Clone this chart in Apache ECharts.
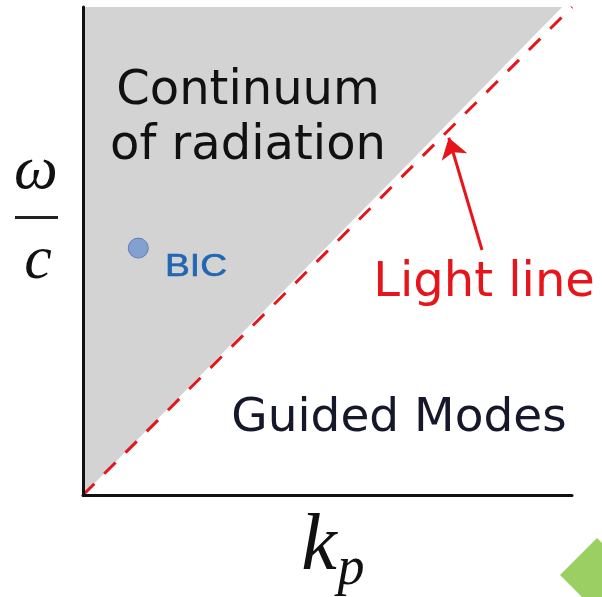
<!DOCTYPE html>
<html>
<head>
<meta charset="utf-8">
<style>html,body{margin:0;padding:0;background:#fff;}#c{width:602px;height:597px;}</style>
<script src="https://cdn.jsdelivr.net/npm/echarts@6/dist/echarts.min.js"></script>
</head>
<body>
<div id="c"></div>
<script>
// Data (normalized k_p and omega/c units)
const lightLine = [[0, 0], [1, 1]];
const continuumRegion = [[0, 0], [0, 1], [0.98, 1]];
const bicPoint = [[0.113, 0.506]];
const arrowCoords = [[0.816, 0.502], [0.748, 0.732]];

const chart = echarts.init(document.getElementById('c'), null, {renderer: 'canvas'});
const sans = '"DejaVu Sans", Verdana, sans-serif';
const serif = '"Liberation Serif", "DejaVu Serif", serif';

chart.setOption({
  animation: false,
  backgroundColor: '#ffffff',
  grid: {left: 83, top: 7, width: 489, height: 488, containLabel: false},
  xAxis: {
    type: 'value', min: 0, max: 1, z: 5,
    axisLine: {show: true, onZero: false, lineStyle: {color: '#111', width: 3}},
    axisTick: {show: false}, axisLabel: {show: false}, splitLine: {show: false}
  },
  yAxis: {
    type: 'value', min: 0, max: 1, z: 5,
    axisLine: {show: true, onZero: false, lineStyle: {color: '#111', width: 3}},
    axisTick: {show: false}, axisLabel: {show: false}, splitLine: {show: false}
  },
  series: [
    {
      type: 'custom', z: 1,
      renderItem: function (params, api) {
        const pts = continuumRegion.map(p => api.coord(p));
        return {type: 'polygon', shape: {points: pts}, style: {fill: '#d3d3d3'}};
      },
      data: [0]
    },
    {
      type: 'line', data: lightLine, symbol: 'none', z: 3,
      lineStyle: {color: '#e3161e', width: 3, type: [16, 14]}
    },
    {
      type: 'scatter', data: bicPoint, symbolSize: 20, z: 4,
      itemStyle: {color: '#6f95d0', borderColor: '#4d73b3', borderWidth: 1}
    },
    {
      type: 'lines', coordinateSystem: 'cartesian2d', z: 4,
      symbol: ['none', 'arrow'], symbolSize: [14, 20],
      lineStyle: {color: '#e8141c', width: 3, opacity: 1, curveness: 0},
      data: [{coords: arrowCoords}]
    }
  ],
  graphic: [
    {type: 'text', z: 10, style: {x: 248, y: 92, text: 'Continuum', font: '48px ' + sans, fill: '#111', align: 'center', verticalAlign: 'middle'}},
    {type: 'text', z: 10, style: {x: 248, y: 147, text: 'of radiation', font: '48px ' + sans, fill: '#111', align: 'center', verticalAlign: 'middle'}},
    {type: 'text', z: 10, x: 165, y: 267, scaleX: 1.2, style: {x: 0, y: 0, text: 'BIC', font: '31px "Liberation Sans", Arial, sans-serif', fill: '#2166b3', stroke: '#2166b3', lineWidth: 0.6, align: 'left', verticalAlign: 'middle'}},
    {type: 'text', z: 10, style: {x: 484, y: 284, text: 'Light line', font: '48px ' + sans, fill: '#e8141c', align: 'center', verticalAlign: 'middle'}},
    {type: 'text', z: 10, style: {x: 399, y: 419, text: 'Guided Modes', font: '47px ' + sans, fill: '#15172b', align: 'center', verticalAlign: 'middle'}},
    {type: 'text', z: 10, style: {x: 36, y: 172, text: 'ω', font: 'italic 62px ' + serif, fill: '#111', align: 'center', verticalAlign: 'middle'}},
    {type: 'rect', z: 10, shape: {x: 15, y: 216, width: 43, height: 3}, style: {fill: '#222'}},
    {type: 'text', z: 10, style: {x: 38, y: 262, text: 'c', font: 'italic 62px ' + serif, fill: '#111', align: 'center', verticalAlign: 'middle'}},
    {type: 'text', z: 10, style: {x: 319, y: 548, text: 'k', font: 'italic 80px ' + serif, fill: '#111', align: 'center', verticalAlign: 'middle'}},
    {type: 'text', z: 10, style: {x: 351, y: 570, text: 'p', font: 'italic 54px ' + serif, fill: '#111', align: 'center', verticalAlign: 'middle'}},
    {type: 'polygon', z: 10, shape: {points: [[597, 538], [634, 575], [597, 612], [560, 575]]}, style: {fill: '#9ccf63'}}
  ]
});
</script>
</body>
</html>
